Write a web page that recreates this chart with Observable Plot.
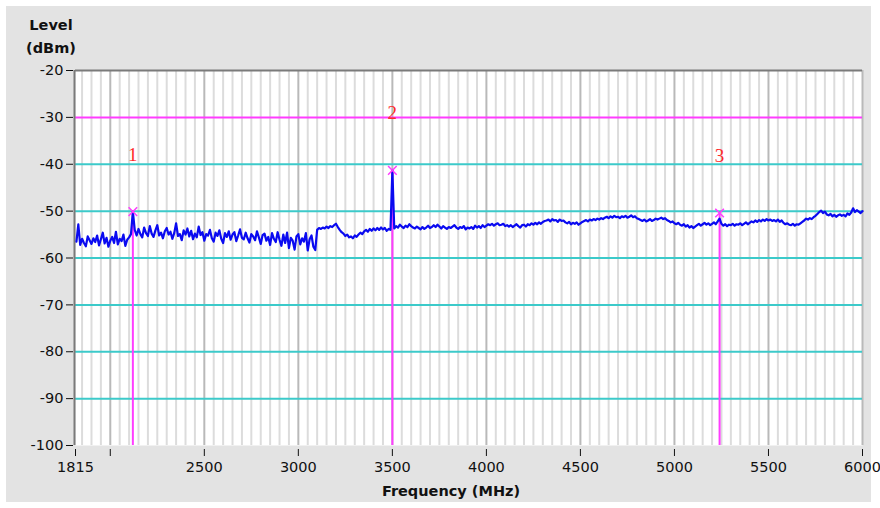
<!DOCTYPE html>
<html>
<head>
<meta charset="utf-8">
<script src="https://cdn.jsdelivr.net/npm/d3@7"></script>
<script src="https://cdn.jsdelivr.net/npm/@observablehq/plot@0.6"></script>
<style>
  html, body { margin: 0; padding: 0; background: #ffffff; }
  #wrap { position: relative; width: 880px; height: 508px; }
  #panel { position: absolute; left: 6px; top: 6px; width: 865px; height: 496px; background: #e3e3e3; }
  #chart { position: absolute; left: 0; top: 0; }
  .title { position: absolute; font-family: "DejaVu Sans", sans-serif; font-weight: bold; font-size: 14.5px; color: #111; white-space: nowrap; transform: translate(-50%, -50%); }
</style>
</head>
<body>
<div id="wrap">
  <div id="panel"></div>
  <div id="chart"></div>
  <div class="title" style="left:51px; top:25px;">Level</div>
  <div class="title" style="left:51px; top:48px;">(dBm)</div>
  <div class="title" style="left:451px; top:491px;">Frequency (MHz)</div>
</div>
<script>
// Sweep: first frequency and step (MHz), then measured level (dBm) per point
const sweepStart = 1820;
const sweepStep = 10;
const levels = [
  -56.5, -52.8, -57.2, -55.9, -56.8, -57.5, -55.4, -56.2, -57.0, -55.8,
  -56.6, -55.2, -57.3, -56.0, -54.6, -56.9, -55.7, -57.6, -56.3, -55.5,
  -56.8, -54.4, -57.1, -55.9, -56.4, -55.0, -57.4, -56.1, -55.6, -54.9,
  -50.1, -54.0, -55.2, -53.8, -54.9, -55.6, -53.5, -54.7, -55.3, -53.2,
  -54.8, -55.5, -54.1, -53.0, -55.2, -54.6, -55.8, -54.3, -53.6, -55.0,
  -54.4, -55.9, -54.7, -52.6, -55.3, -54.9, -56.2, -54.1, -55.0, -53.7,
  -55.4, -54.2, -56.0, -54.8, -55.6, -53.3, -55.1, -54.5, -56.3, -54.9,
  -55.2, -54.0, -55.8, -56.5, -54.6, -55.3, -54.1, -55.9, -56.8, -54.7,
  -55.5, -54.3, -56.1, -55.0, -54.5, -56.4, -55.2, -53.9, -55.7, -56.0,
  -54.6, -55.8, -56.7, -54.9, -55.4, -56.2, -54.3, -55.6, -57.0, -55.1,
  -54.8, -56.3, -55.5, -57.2, -54.7, -55.9, -56.6, -54.5, -56.1, -57.4,
  -55.0, -56.8, -54.6, -57.9, -55.7, -56.3, -58.2, -55.4, -54.9, -57.1,
  -55.8, -56.5, -54.7, -58.4, -56.0, -55.2, -57.6, -58.3, -54.0, -53.6,
  -53.8, -53.5, -53.7, -53.3, -53.6, -53.2, -53.4, -53.0, -52.7, -53.4,
  -54.0, -54.5, -54.8, -55.3, -55.0, -55.6, -55.4, -55.8, -55.2, -55.5,
  -55.0, -54.6, -54.9, -54.3, -54.0, -54.4, -53.8, -54.2, -53.7, -54.1,
  -53.6, -54.0, -53.5, -53.9, -53.6, -54.2, -53.8, -54.0, -41.3, -53.7,
  -53.2, -53.5, -52.9, -53.3, -53.6, -53.1, -53.4, -52.8, -53.2, -53.5,
  -53.7, -53.3, -53.6, -53.9, -53.4, -53.8, -53.5, -53.1, -53.6, -53.4,
  -53.0, -53.4, -52.9, -53.3, -53.7, -53.2, -53.5, -53.8, -53.4, -53.6,
  -53.3, -53.0, -53.5, -53.8, -53.4, -53.6, -53.2, -53.9, -53.5, -53.7,
  -53.4, -53.8, -53.1, -53.5, -53.2, -53.6, -53.0, -53.4, -53.1, -52.8,
  -53.0, -52.7, -53.1, -52.8, -52.6, -53.0, -52.9, -52.7, -53.2, -53.0,
  -53.3, -53.0, -53.4, -53.1, -52.8, -53.2, -53.5, -53.0, -52.9, -53.3,
  -52.8, -53.0, -52.6, -52.9, -52.5, -52.8, -52.4, -52.7, -52.3, -52.1,
  -52.0, -51.8, -52.2, -51.7, -52.0, -51.9, -52.3, -51.8, -52.1, -52.0,
  -52.4, -52.6, -52.3, -52.8, -52.5, -52.7, -52.4, -52.9, -52.6, -52.3,
  -52.1, -51.9, -52.2, -51.8, -52.0, -51.7, -51.9, -51.6, -51.8, -51.5,
  -51.7, -51.4, -51.2, -51.5, -51.1, -51.4, -51.0, -51.3, -51.2, -51.5,
  -51.1, -51.3, -51.0, -51.4, -51.2, -50.9, -51.3, -51.1, -51.5, -51.7,
  -51.9, -52.1, -51.8, -52.2, -52.0, -51.7, -52.1, -51.9, -51.6, -51.8,
  -51.6, -51.4, -51.7, -51.5, -51.9, -52.1, -52.4, -52.2, -52.6, -52.8,
  -52.5, -52.9, -53.1, -52.8, -53.3, -53.0, -53.5, -53.2, -53.6, -53.3,
  -53.0, -52.7, -53.1, -52.8, -52.5, -52.9, -52.6, -53.0, -52.7, -52.4,
  -52.8, -52.2, -51.6, -52.7, -53.1, -52.8, -53.2, -52.9, -53.0, -52.7,
  -53.1, -52.8, -52.9, -52.6, -53.0, -52.7, -52.4, -52.8, -52.5, -52.2,
  -52.4, -52.0, -52.3, -51.9, -52.2, -51.8, -52.1, -51.7, -52.0, -51.8,
  -52.1, -51.9, -52.2, -51.8, -52.3, -52.0, -52.5, -52.8, -52.6, -52.9,
  -53.0, -52.7, -53.1, -52.8, -52.9, -52.6, -52.3, -52.0, -51.6, -51.8,
  -51.5, -51.7, -51.3, -51.0, -50.6, -50.2, -49.9, -50.4, -50.1, -50.7,
  -50.9, -50.6, -51.1, -50.8, -51.2, -50.9, -50.7, -51.0, -50.8, -51.1,
  -50.5, -50.8, -50.3, -49.4, -50.2, -49.8, -50.1, -50.4, -50.0
];

// Markers
const markerIds = ["1", "2", "3"];
const markerFreqs = [2120, 3500, 5240];
const markerLevels = [-50.1, -41.3, -50.4];

// Limit line and axis ticks
const limitLevel = -30;
const levelTicks = [-20, -30, -40, -50, -60, -70, -80, -90, -100];
const cyanLevels = [-40, -50, -60, -70, -80, -90];
const freqTicks = [1815, 2000, 2500, 3000, 3500, 4000, 4500, 5000, 5500, 6000];
const freqMinorStep = 50;

const trace = levels.map((v, i) => ({f: sweepStart + i * sweepStep, level: v}));
const markers = markerIds.map((id, i) => ({id, f: markerFreqs[i], level: markerLevels[i]}));
const minorFreqs = d3.range(1850, 6000, freqMinorStep).filter(f => !freqTicks.includes(f));
const majorFreqs = freqTicks.filter(f => f !== 1815);

const magenta = "#ff3cff";

const chart = Plot.plot({
  width: 880,
  height: 508,
  marginLeft: 75,
  marginRight: 18,
  marginTop: 70,
  marginBottom: 63,
  style: {background: "transparent", fontFamily: "DejaVu Sans, sans-serif", fontSize: "14.5px", color: "#111", overflow: "visible"},
  x: {type: "linear", domain: [1815, 6000]},
  y: {domain: [-100, -20]},
  marks: [
    Plot.frame({fill: "#ffffff", stroke: null}),
    Plot.ruleX(minorFreqs, {stroke: "#dcdcdc", strokeWidth: 2}),
    Plot.ruleX(majorFreqs, {stroke: "#b9b9b9", strokeWidth: 2}),
    Plot.ruleY(cyanLevels, {stroke: "#3ccaca", strokeWidth: 2}),
    Plot.ruleY([limitLevel], {stroke: magenta, strokeWidth: 2}),
    Plot.ruleY([-20], {stroke: "#7a7a7a", strokeWidth: 2}),
    Plot.ruleX([1815], {stroke: "#7a7a7a", strokeWidth: 2, dx: -1}),
    Plot.ruleX(markers, {x: "f", y1: "level", y2: -100, stroke: magenta, strokeWidth: 2}),
    Plot.line(trace, {x: "f", y: "level", stroke: "#0a0af0", strokeWidth: 2.2}),
    Plot.dot(markers, {x: "f", y: "level", symbol: "times", r: 4, stroke: magenta, strokeWidth: 1.5}),
    Plot.text(markers, {x: "f", y: "level", text: "id", dy: -57, fill: "#ff2a2a", fontFamily: "Liberation Serif, serif", fontSize: 19}),
    Plot.axisY({ticks: levelTicks, tickFormat: d => String(d), tickSize: 7, tickPadding: 3, dx: -2, label: null}),
    Plot.axisX({ticks: freqTicks, tickFormat: d => d === 2000 ? "" : String(d), tickSize: 7, tickPadding: 5, dy: 4, label: null})
  ]
});
document.getElementById("chart").appendChild(chart);
</script>
</body>
</html>
